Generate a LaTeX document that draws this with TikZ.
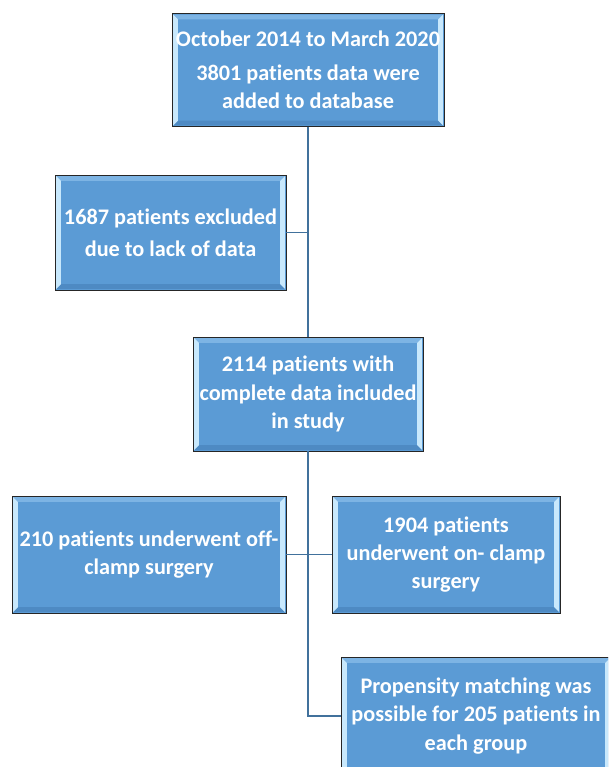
\documentclass[tikz,border=0pt]{standalone}
\usepackage{fontspec}
\setmainfont{Carlito}[Ligatures=NoCommon]
\usepackage{tikz}
\usetikzlibrary{arrows.meta, positioning}
\definecolor{boxblue}{RGB}{91,155,213}
\definecolor{bevellight}{RGB}{200,232,252}
\definecolor{beveltop}{RGB}{125,180,228}
\definecolor{bevelbottom}{RGB}{78,138,195}
\definecolor{linkblue}{RGB}{65,113,156}

\begin{document}
\begin{tikzpicture}[
    font=\fontsize{19}{24}\selectfont\bfseries,
    flowbox/.style={draw=black!85, line width=0.8pt, fill=boxblue, text=white,
        align=center, inner sep=1pt,
        path picture={
            \coordinate (nw) at (path picture bounding box.north west);
            \coordinate (ne) at (path picture bounding box.north east);
            \coordinate (sw) at (path picture bounding box.south west);
            \coordinate (se) at (path picture bounding box.south east);
            \fill[beveltop] ([shift={(1pt,-1pt)}]nw) -- ([shift={(-1pt,-1pt)}]ne)
                -- ([shift={(-5pt,-5pt)}]ne) -- ([shift={(5pt,-5pt)}]nw) -- cycle;
            \fill[bevelbottom] ([shift={(1pt,1pt)}]sw) -- ([shift={(-1pt,1pt)}]se)
                -- ([shift={(-5pt,5pt)}]se) -- ([shift={(5pt,5pt)}]sw) -- cycle;
            \fill[bevellight] ([shift={(1pt,-1pt)}]nw) -- ([shift={(5pt,-5pt)}]nw)
                -- ([shift={(5pt,5pt)}]sw) -- ([shift={(1pt,1pt)}]sw) -- cycle;
            \fill[bevellight] ([shift={(-1pt,-1pt)}]ne) -- ([shift={(-5pt,-5pt)}]ne)
                -- ([shift={(-5pt,5pt)}]se) -- ([shift={(-1pt,1pt)}]se) -- cycle;
        }},
    link/.style={draw=linkblue, line width=1.5pt}
]
\useasboundingbox (0,0) rectangle (18.24,-23.01);
\clip (0,0) rectangle (18.24,-23.01);

% Database and exclusion
\node[flowbox, minimum width=8.16cm, minimum height=3.39cm] (db) at (9.24,-2.1)
    {October 2014 to March 2020\\[5pt]3801 patients data were\\added to database};
\node[flowbox, minimum width=6.93cm, minimum height=3.45cm] (excl) at (5.115,-6.975)
    {1687 patients excluded\\[3pt]due to lack of data};

% Study cohort
\node[flowbox, minimum width=6.9cm, minimum height=3.42cm] (study) at (9.24,-11.82)
    {2114 patients with\\complete data included\\in study};

% Two surgery groups
\node[flowbox, minimum width=8.22cm, minimum height=3.51cm] (off) at (4.47,-16.635)
    {210 patients underwent off-\\clamp surgery};
\node[flowbox, minimum width=6.84cm, minimum height=3.51cm] (on) at (13.38,-16.635)
    {1904 patients\\underwent on- clamp\\surgery};

% Matching
\node[flowbox, minimum width=8.1cm, minimum height=3.54cm] (match) at (14.28,-21.48)
    {Propensity matching was\\possible for 205 patients in\\each group};

% Connectors
\coordinate (elbow) at (study.south |- match.west);
\draw[link] (db.south) -- (study.north);
\draw[link] (excl.east) -- (excl.east -| db.south);
\draw[link] (study.south) -- (elbow) -- (match.west);
\draw[link] (off.east) -- (on.west);

\end{tikzpicture}
\end{document}
